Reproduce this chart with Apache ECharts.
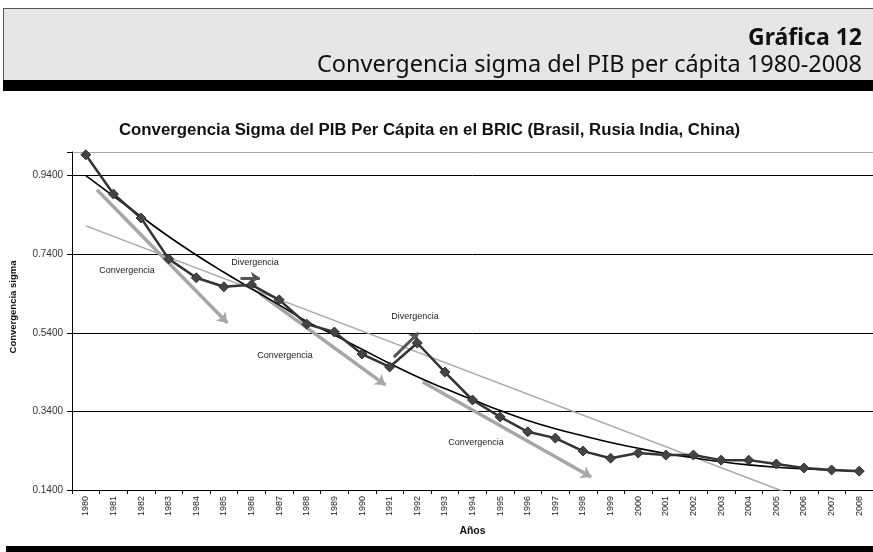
<!DOCTYPE html>
<html>
<head>
<meta charset="utf-8">
<script src="https://cdn.jsdelivr.net/npm/echarts@6/dist/echarts.min.js"></script>
<style>
  html, body { margin: 0; padding: 0; background: #fff; }
  #chart { width: 873px; height: 552px; }
</style>
</head>
<body>
<div id="chart"></div>
<script>
// years on the x axis
const years = ['1980','1981','1982','1983','1984','1985','1986','1987','1988','1989',
  '1990','1991','1992','1993','1994','1995','1996','1997','1998','1999',
  '2000','2001','2002','2003','2004','2005','2006','2007','2008'];

// sigma convergence
const sigma = [0.993, 0.893, 0.832, 0.728, 0.680, 0.657, 0.662, 0.624, 0.562, 0.542,
  0.486, 0.453, 0.514, 0.440, 0.369, 0.326, 0.288, 0.272, 0.239, 0.221,
  0.234, 0.229, 0.229, 0.216, 0.216, 0.206, 0.196, 0.191, 0.188];

// polynomial trend line
const polyTrend = [0.940, 0.888, 0.836, 0.785, 0.738, 0.694, 0.652, 0.611, 0.569, 0.534,
  0.498, 0.462, 0.428, 0.398, 0.370, 0.342, 0.317, 0.296, 0.278, 0.261,
  0.246, 0.233, 0.222, 0.212, 0.204, 0.198, 0.194, 0.191, 0.189];

// linear trend: only the two ends, the rest is joined
const linearTrend = [0.812, null, null, null, null, null, null, null, null, null,
  null, null, null, null, null, null, null, null, null, null,
  null, null, null, null, null, null, null, null, 0.063];

const yTicks = [0.14, 0.34, 0.54, 0.74, 0.94];

// arrows in (category index, value)
const convArrows = [
  [[0.40, 0.904], [5.13, 0.565]],
  [[6.30, 0.640], [10.85, 0.407]],
  [[12.20, 0.415], [18.30, 0.173]]
];
const divArrows = [
  [[5.60, 0.680], [6.30, 0.680]],
  [[11.15, 0.478], [12.05, 0.540]]
];

// annotation texts [label, x, y]
const notes = [
  ['Convergencia', 127, 271],
  ['Divergencia', 255, 263],
  ['Divergencia', 415, 317],
  ['Convergencia', 285, 356],
  ['Convergencia', 476, 443]
];

const chart = echarts.init(document.getElementById('chart'));

const noteGraphics = notes.map(([t, x, y]) => ({
  type: 'text',
  x: x, y: y,
  style: {
    text: t, fill: '#222', font: '9px "Liberation Sans", Arial, sans-serif',
    textAlign: 'center', textVerticalAlign: 'middle'
  },
  z: 20
}));

chart.setOption({
  animation: false,
  backgroundColor: '#fff',
  title: {
    text: 'Convergencia Sigma del PIB Per Cápita en el BRIC (Brasil, Rusia India, China)',
    left: 114,
    top: 117,
    textStyle: {
      fontFamily: '"Liberation Sans", Arial, sans-serif',
      fontSize: 16.8, fontWeight: 'bold', color: '#111'
    }
  },
  graphic: [
    { type: 'rect', shape: { x: 3, y: 8, width: 872, height: 72 }, style: { fill: '#e6e6e6' } },
    { type: 'line', shape: { x1: 3.5, y1: 8, x2: 3.5, y2: 80 }, style: { stroke: '#555', lineWidth: 1 } },
    { type: 'line', shape: { x1: 3, y1: 8.5, x2: 873, y2: 8.5 }, style: { stroke: '#555', lineWidth: 1 } },
    { type: 'rect', shape: { x: 3, y: 80, width: 872, height: 11 }, style: { fill: '#000' } },
    { type: 'rect', shape: { x: 6, y: 546, width: 870, height: 8 }, style: { fill: '#000' } },
    {
      type: 'text', x: 862, y: 50,
      style: {
        text: 'Gráfica 12', fill: '#111', textAlign: 'right', textVerticalAlign: 'bottom',
        font: 'bold 23px "Noto Sans", sans-serif'
      }
    },
    {
      type: 'text', x: 862, y: 77,
      style: {
        text: 'Convergencia sigma del PIB per cápita 1980-2008', fill: '#111',
        textAlign: 'right', textVerticalAlign: 'bottom',
        font: '23.5px "Noto Sans", sans-serif'
      }
    },
    {
      type: 'text', x: 13, y: 307, rotation: Math.PI / 2,
      style: {
        text: 'Convergencia sigma', fill: '#111',
        textAlign: 'center', textVerticalAlign: 'middle',
        font: 'bold 9.5px "Liberation Sans", Arial, sans-serif'
      }
    }
  ].concat(noteGraphics),
  grid: { left: 72, top: 152, width: 803, height: 338 },
  xAxis: [
    {
      type: 'category',
      data: years,
      boundaryGap: true,
      axisLine: { onZero: false, lineStyle: { color: '#000', width: 1 } },
      axisTick: { show: true, length: 4, lineStyle: { color: '#000' } },
      axisLabel: {
        rotate: 90, fontSize: 9, color: '#222', margin: 6,
        fontFamily: '"Liberation Sans", Arial, sans-serif'
      },
      name: 'Años',
      nameLocation: 'middle',
      nameGap: 36,
      nameTextStyle: {
        fontSize: 10.5, fontWeight: 'bold', color: '#111',
        fontFamily: '"Liberation Sans", Arial, sans-serif'
      }
    },
    { type: 'value', min: -0.5, max: 28.5, show: false }
  ],
  yAxis: {
    type: 'value',
    min: yTicks[0],
    max: 1.0,
    interval: 0.2,
    axisLine: { show: true, onZero: false, lineStyle: { color: '#000', width: 1 } },
    axisTick: { show: true, length: 5, lineStyle: { color: '#000' } },
    axisLabel: {
      fontSize: 10, color: '#333', margin: 9,
      fontFamily: '"Liberation Sans", Arial, sans-serif',
      formatter: (v) => (yTicks.some(t => Math.abs(t - v) < 1e-6) ? v.toFixed(4) : '')
    },
    splitLine: {
      show: true,
      lineStyle: { color: ['#000', '#000', '#000', '#000', '#000', '#aaa'], width: 1 }
    }
  },
  series: [
    {
      type: 'line',
      data: linearTrend,
      connectNulls: true,
      symbol: 'none',
      lineStyle: { color: '#a8a8a8', width: 1.5 },
      z: 2
    },
    {
      type: 'lines',
      coordinateSystem: 'cartesian2d',
      xAxisIndex: 1,
      yAxisIndex: 0,
      symbol: ['none', 'arrow'],
      symbolSize: 10,
      lineStyle: { color: '#a6a6a6', width: 3.5, opacity: 1 },
      data: convArrows.map(c => ({ coords: c })),
      z: 3
    },
    {
      type: 'lines',
      coordinateSystem: 'cartesian2d',
      xAxisIndex: 1,
      yAxisIndex: 0,
      symbol: ['none', 'arrow'],
      symbolSize: 9,
      lineStyle: { color: '#555', width: 3, opacity: 1 },
      data: divArrows.map(c => ({ coords: c })),
      z: 3
    },
    {
      type: 'line',
      data: polyTrend,
      smooth: true,
      symbol: 'none',
      lineStyle: { color: '#000', width: 1.6 },
      z: 4
    },
    {
      type: 'line',
      data: sigma,
      symbol: 'diamond',
      symbolSize: 10,
      itemStyle: { color: '#444', borderColor: '#333', borderWidth: 1 },
      lineStyle: { color: '#333', width: 2.5 },
      z: 5
    }
  ]
});
</script>
</body>
</html>
